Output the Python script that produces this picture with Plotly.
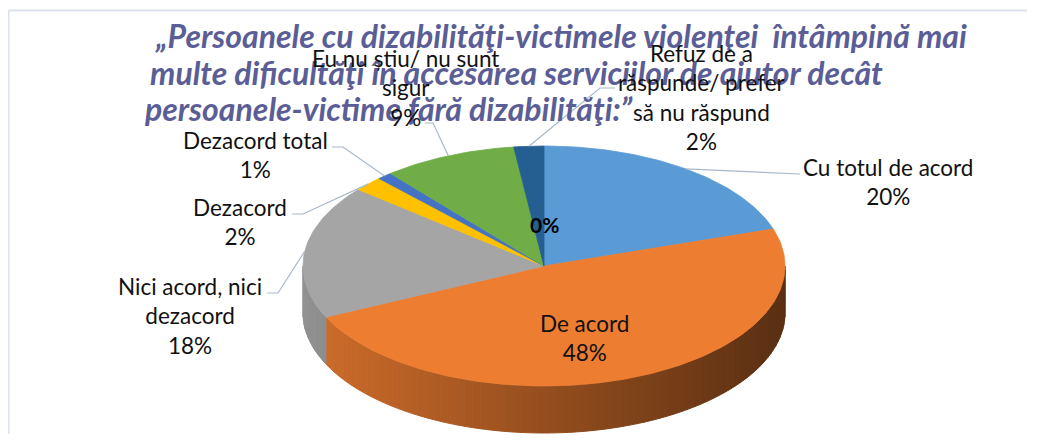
import numpy as np
import plotly.graph_objects as go

# ---------------- data ----------------
categories = ["Cu totul de acord", "De acord", "Nici acord, nici dezacord", "Dezacord",
              "Dezacord total", "Eu nu știu/ nu sunt sigur",
              "Refuz de a răspunde/ prefer să nu răspund"]
values = [20, 48, 18, 2, 1, 9, 2]
label_names = ["Cu totul de acord", "De acord", "Nici acord, nici<br>dezacord", "Dezacord",
               "Dezacord total", "Eu nu știu/ nu sunt<br>sigur",
               "Refuz de a<br>răspunde/ prefer<br>să nu răspund"]
zero_label = "0%"
title_lines = ["„Persoanele cu dizabilităţi-victimele violenţei  întâmpină mai",
               "multe dificultăţi în accesarea serviciilor de ajutor decât",
               "persoanele-victime fără dizabilităţi:”"]

# ---------------- style / layout ----------------
colors = ["#5B9BD5", "#ED7D31", "#A5A5A5", "#FFC000", "#4472C4", "#70AD47", "#255E91"]
W, H = 1041, 448
OFF = 8  # page body margin
CUT = 6  # keep the page from scrolling
CX, CY, A, B, DEPTH = 544, 266, 241, 120, 47
FONT = "Lato"
LEADER = "#A8B8CA"
FRAME = "#DCE2EC"

# label anchor (centre of text block) and leader start points for each category
label_pos = [(888, 182), (584, 338), (190, 316), (240, 222), (255, 155), (405, 88), (702, 97)]
leader_start = [
    [(800, 174)],
    None,
    [(267, 293), (278, 293)],
    [(292, 214), (303, 214)],
    [(332, 147), (343, 147)],
    [(425, 123), (433, 123)],
    [(615, 88), (600, 88)],
]
title_pos = [(153, 35), (148, 72), (142, 108)]

FW, FH = W - 2 * OFF - CUT, H - 2 * OFF - CUT


def pt(theta, r=1.0):
    t = np.radians(theta)
    return CX + r * A * np.sin(t), CY - r * B * np.cos(t)


def shade(hexcol, f):
    h = hexcol.lstrip("#")
    r, g, b = (int(h[i:i + 2], 16) for i in (0, 2, 4))
    return "rgb(%d,%d,%d)" % (min(255, r * f), min(255, g * f), min(255, b * f))


fig = go.Figure()
total = float(sum(values))
bounds = []
acc = 0.0
for v in values:
    t0 = acc / total * 360
    acc += v
    t1 = acc / total * 360
    bounds.append((t0, t1))

# side walls (front half, theta 90..270) with horizontal gradient
for (t0, t1), col in zip(bounds, colors):
    lo, hi = max(t0, 90), min(t1, 270)
    if hi <= lo:
        continue
    n = max(1, int(np.ceil((hi - lo) / 2.0)))
    edges = np.linspace(lo, hi, n + 1)
    for a0, a1 in zip(edges[:-1], edges[1:]):
        th = np.linspace(a0, a1, 4)
        xs, ys = pt(th)
        px = list(xs) + list(xs[::-1]) + [xs[0]]
        py = list(ys) + list((ys + DEPTH)[::-1]) + [ys[0]]
        xm = float(np.mean(xs))
        f = 0.88 - 0.5 * (xm - (CX - A)) / (2 * A)
        c = shade(col, f)
        fig.add_trace(go.Scatter(x=px, y=py, mode="lines", fill="toself", fillcolor=c,
                                 line=dict(color=c, width=1), hoverinfo="skip",
                                 showlegend=False))

# top surfaces
for (t0, t1), col, name, v in zip(bounds, colors, categories, values):
    n = max(3, int(np.ceil((t1 - t0) / 1.0)) + 1)
    th = np.linspace(t0, t1, n)
    xs, ys = pt(th)
    px = [CX] + list(xs) + [CX]
    py = [CY] + list(ys) + [CY]
    fig.add_trace(go.Scatter(x=px, y=py, mode="lines", fill="toself", fillcolor=col,
                             line=dict(color=col, width=0.8), name=name,
                             hovertemplate=f"{name}: {v}%<extra></extra>",
                             showlegend=False))

# leader lines
for (t0, t1), start in zip(bounds, leader_start):
    if start is None:
        continue
    ex, ey = pt((t0 + t1) / 2)
    xs = [p[0] for p in start] + [float(ex)]
    ys = [p[1] for p in start] + [float(ey)]
    fig.add_trace(go.Scatter(x=xs, y=ys, mode="lines", line=dict(color=LEADER, width=1.2),
                             hoverinfo="skip", showlegend=False))

annotations = []
# title (one annotation per line to control spacing)
for (tx, ty), line in zip(title_pos, title_lines):
    annotations.append(dict(x=tx, y=ty, xref="x", yref="y", text="<b><i>" + line + "</i></b>",
                            showarrow=False, xanchor="left", yanchor="middle", align="left",
                            font=dict(family=FONT, size=32, color="#5B5E96")))
# data labels
for (lx, ly), nm, v in zip(label_pos, label_names, values):
    annotations.append(dict(x=lx, y=ly, xref="x", yref="y", text=f"{nm}<br>{v}%",
                            showarrow=False, xanchor="center", yanchor="middle", align="center",
                            font=dict(family=FONT, size=22.5, color="#111111")))
# zero label near the start of the first slice
zx, zy = pt(bounds[0][0], 0.35)
annotations.append(dict(x=float(zx), y=float(zy), xref="x", yref="y", text="<b>" + zero_label + "</b>",
                        showarrow=False, xanchor="center", yanchor="middle",
                        font=dict(family=FONT, size=21, color="#000000")))

top_y = 1 - (10.5 - OFF) / FH
left_x = 0.5 / FW
fig.update_layout(
    width=FW, height=FH,
    margin=dict(l=0, r=0, t=0, b=0),
    paper_bgcolor="white", plot_bgcolor="white",
    xaxis=dict(range=[OFF, W - OFF - CUT], visible=False, fixedrange=True, showline=False,
               zeroline=False, showgrid=False),
    yaxis=dict(range=[H - OFF - CUT, OFF], visible=False, fixedrange=True, showline=False,
               zeroline=False, showgrid=False),
    annotations=annotations,
    shapes=[
        dict(type="line", xref="paper", yref="paper", x0=left_x, x1=1, y0=top_y, y1=top_y,
             line=dict(color=FRAME, width=2)),
        dict(type="line", xref="paper", yref="paper", x0=left_x, x1=left_x, y0=0, y1=top_y,
             line=dict(color=FRAME, width=2)),
    ],
)

fig.write_html("out.html", config={"displayModeBar": False})
